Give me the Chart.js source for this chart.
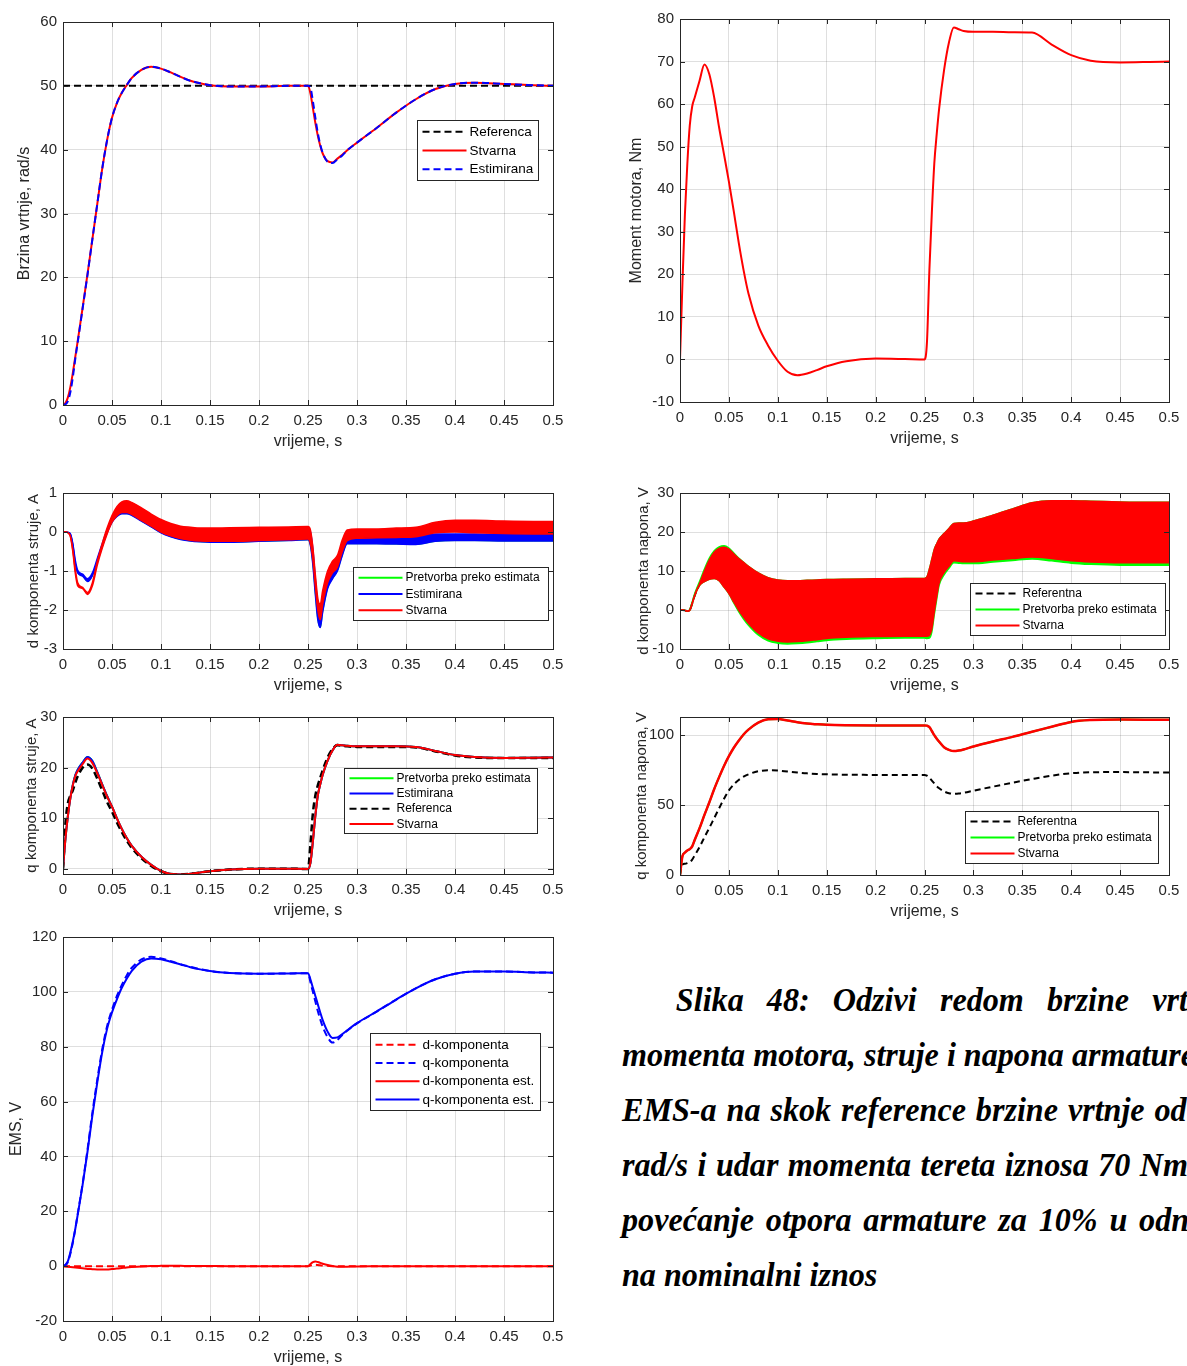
<!DOCTYPE html>
<html>
<head>
<meta charset="utf-8">
<script src="https://cdn.jsdelivr.net/npm/chart.js@4.4.1/dist/chart.umd.min.js"></script>
<style>
  html, body { margin: 0; padding: 0; background: #fff; width: 1187px; height: 1366px; overflow: hidden; }
  canvas { position: absolute; }
  #caption { position: absolute; left: 622px; top: 972px; color: #000; white-space: nowrap;
    font: italic bold 34px 'Liberation Serif', 'Times New Roman', serif; line-height: 55px;
    transform: scaleX(0.945); transform-origin: 0 0; }
</style>
</head>
<body>
<div id="caption">
  <div style="text-indent:57px;word-spacing:16px">Slika 48: Odzivi redom brzine vrtnje,</div>
  <div>momenta motora, struje i napona armature i</div>
  <div style="word-spacing:2px">EMS-a na skok reference brzine vrtnje od 50</div>
  <div style="word-spacing:1.5px">rad/s i udar momenta tereta iznosa 70 Nm uz</div>
  <div style="word-spacing:4px">povećanje otpora armature za 10% u odnosu</div>
  <div>na nominalni iznos</div>
</div>
<script>
// time base (s)
const t = [0, 0.0025, 0.005, 0.0075, 0.01, 0.0125, 0.015, 0.02, 0.025, 0.03,
  0.035, 0.04, 0.045, 0.05, 0.055, 0.06, 0.065, 0.07, 0.08, 0.09,
  0.1, 0.11, 0.12, 0.13, 0.14, 0.15, 0.17, 0.2, 0.23, 0.25,
  0.2525, 0.255, 0.2575, 0.26, 0.2625, 0.265, 0.27, 0.275, 0.28, 0.285,
  0.29, 0.3, 0.32, 0.34, 0.36, 0.38, 0.4, 0.42, 0.45, 0.48,
  0.5]
const tRef = [0, 0.5]
const xTicks = [0, 0.05, 0.1, 0.15, 0.2, 0.25, 0.3, 0.35, 0.4, 0.45, 0.5]
const xTickLabels = ['0', '0.05', '0.1', '0.15', '0.2', '0.25', '0.3', '0.35', '0.4', '0.45', '0.5']

// brzina vrtnje
const speedRef = [50, 50]
const speedReal = [0, 0.3, 1.2, 2.8, 5, 7.5, 10, 15.2, 20.5, 26,
  31.5, 37, 41.5, 45, 47.3, 48.9, 50.1, 51.2, 52.5, 53,
  52.7, 52.1, 51.4, 50.8, 50.4, 50.1, 49.9, 49.9, 50, 50,
  48.8, 46.5, 44.2, 42.2, 40.6, 39.4, 38.2, 38, 38.6, 39.2,
  39.9, 41.1, 43.4, 45.8, 47.9, 49.5, 50.3, 50.5, 50.3, 50.1,
  50]
const speedEst = [0, 0.1, 0.6, 2.0, 4.3, 7.2, 9.8, 15.1, 20.4, 26,
  31.5, 37, 41.5, 45, 47.3, 48.9, 50.1, 51.2, 52.5, 53,
  52.7, 52.1, 51.4, 50.8, 50.4, 50.1, 49.9, 49.9, 50, 50,
  49.7, 47.6, 45, 42.6, 40.8, 39.5, 38.1, 37.9, 38.5, 39.1,
  39.9, 41.1, 43.4, 45.8, 47.9, 49.5, 50.3, 50.5, 50.3, 50.1,
  50]
const speedTicks = [0, 10, 20, 30, 40, 50, 60]

// moment motora
const torque = [0, 18, 34, 46, 55, 59.5, 61.5, 65.5, 69.3, 67,
  61.5, 54.5, 48.2, 41.8, 34.8, 27.5, 21, 15.5, 8, 3.3,
  -0.3, -2.9, -3.7, -3.3, -2.5, -1.6, -0.4, 0.2, 0.1, 0,
  4, 21, 34.5, 46, 53, 59, 68, 74.5, 78, 77.6,
  77.2, 77, 77, 76.9, 76.8, 74, 71.5, 70.2, 69.8, 69.9,
  70]
const torqueTicks = [-10, 0, 10, 20, 30, 40, 50, 60, 70, 80]

// d komponenta struje (gornja / donja ovojnica)
const idRealHi = [0, 0, -0.02, -0.1, -0.45, -0.95, -1.3, -1.42, -1.55, -1.3,
  -0.75, -0.3, 0.1, 0.42, 0.65, 0.77, 0.8, 0.76, 0.62, 0.46,
  0.32, 0.22, 0.15, 0.12, 0.1, 0.1, 0.11, 0.12, 0.13, 0.14,
  0.05, -0.4, -1.1, -1.7, -1.85, -1.5, -1.0, -0.75, -0.6, -0.2,
  0.05, 0.08, 0.08, 0.1, 0.12, 0.25, 0.3, 0.3, 0.28, 0.27,
  0.27]
const idRealLo = [0, 0, -0.02, -0.12, -0.5, -1.05, -1.38, -1.45, -1.6, -1.38,
  -0.85, -0.42, -0.05, 0.25, 0.42, 0.5, 0.5, 0.45, 0.3, 0.15,
  0, -0.1, -0.17, -0.21, -0.23, -0.24, -0.24, -0.22, -0.2, -0.18,
  -0.3, -0.7, -1.4, -2.0, -2.25, -1.85, -1.3, -1.05, -0.9, -0.5,
  -0.22, -0.16, -0.15, -0.14, -0.12, -0.02, 0, -0.02, -0.04, -0.05,
  -0.05]
const idEstHi = [0, 0, -0.01, -0.05, -0.3, -0.72, -0.98, -1.08, -1.2, -1.05,
  -0.68, -0.3, 0.05, 0.35, 0.55, 0.65, 0.68, 0.65, 0.52, 0.38,
  0.26, 0.17, 0.1, 0.08, 0.07, 0.07, 0.08, 0.09, 0.1, 0.1,
  0, -0.45, -1.2, -1.85, -2.0, -1.7, -1.15, -0.85, -0.7, -0.35,
  -0.1, -0.1, -0.1, -0.1, -0.1, -0.05, -0.05, -0.05, -0.06, -0.07,
  -0.07]
const idEstLo = [0, 0, -0.01, -0.06, -0.33, -0.8, -1.05, -1.13, -1.27, -1.12,
  -0.75, -0.38, -0.02, 0.25, 0.4, 0.47, 0.47, 0.43, 0.28, 0.13,
  -0.02, -0.12, -0.19, -0.23, -0.25, -0.26, -0.26, -0.24, -0.22, -0.2,
  -0.35, -0.85, -1.6, -2.25, -2.45, -2.05, -1.45, -1.2, -1.0, -0.6,
  -0.3, -0.3, -0.3, -0.31, -0.32, -0.24, -0.22, -0.22, -0.23, -0.23,
  -0.23]
const idTicks = [-3, -2, -1, 0, 1]

// d komponenta napona
const udRealHi = [0, 0, -0.1, -0.3, 0, 1.8, 3.8, 6.8, 10, 12.8,
  14.8, 15.8, 16.1, 15.6, 14.4, 13.2, 12.2, 11.2, 9.5, 8.3,
  7.7, 7.5, 7.5, 7.6, 7.7, 7.8, 7.9, 8, 8.1, 8.1,
  8.5, 10.5, 13, 15.5, 17, 18.2, 19.6, 20.9, 22.2, 22.3,
  22.3, 22.8, 24.3, 25.9, 27.5, 28, 28, 27.9, 27.7, 27.6,
  27.6]
const udRealLo = [0, 0, -0.1, -0.3, -0.1, 1.6, 3.6, 6.3, 7.3, 7.9,
  8.1, 7.5, 5.9, 4.2, 2.1, 0, -1.8, -3.4, -5.9, -7.4,
  -8.0, -8.2, -8.1, -7.9, -7.6, -7.3, -7.0, -6.8, -6.7, -6.7,
  -6.7, -6.5, -4.8, -0.5, 3.5, 7, 9.6, 11.2, 12.6, 12.5,
  12.4, 12.4, 12.8, 13.2, 13.6, 13.2, 12.6, 12.3, 12.1, 12.1,
  12.1]
const udConvHi = [0, 0, -0.1, -0.3, 0.1, 2.1, 4.2, 7.3, 10.5, 13.3,
  15.2, 16.2, 16.5, 15.9, 14.6, 13.3, 12.2, 11.2, 9.5, 8.3,
  7.7, 7.5, 7.5, 7.6, 7.7, 7.8, 7.9, 8, 8.1, 8.1,
  8.5, 10.5, 13, 15.5, 17, 18.2, 19.6, 20.9, 22.2, 22.3,
  22.3, 22.8, 24.3, 25.9, 27.5, 28, 28, 27.9, 27.7, 27.6,
  27.6]
const udConvLo = [0, 0, -0.1, -0.3, -0.1, 1.6, 3.6, 6.3, 7.3, 7.9,
  8.1, 7.5, 5.9, 4.2, 1.8, -0.4, -2.3, -3.9, -6.4, -7.9,
  -8.5, -8.7, -8.6, -8.4, -8.1, -7.8, -7.5, -7.3, -7.2, -7.2,
  -7.3, -7.2, -5.6, -1.2, 2.8, 6.4, 9.0, 10.7, 12.1, 12.0,
  11.9, 11.9, 12.3, 12.7, 13.1, 12.6, 12.0, 11.7, 11.5, 11.5,
  11.5]
const udRef = [0, 0, -0.1, -0.3, 0, 1.7, 3.7, 6.5, 8.6, 10.3,
  11.4, 11.6, 11, 9.9, 8.2, 6.6, 5.2, 3.9, 1.8, 0.4,
  -0.2, -0.35, -0.3, -0.15, 0.05, 0.25, 0.45, 0.6, 0.7, 0.7,
  0.9, 2, 4.1, 7.5, 10.2, 12.6, 14.6, 16, 17.4, 17.4,
  17.3, 17.6, 18.5, 19.5, 20.5, 20.6, 20.3, 20.1, 19.9, 19.8,
  19.8]
const udTicks = [-10, 0, 10, 20, 30]

// q komponenta struje
const iqReal = [0, 6, 10.5, 14, 16.5, 18.3, 19.3, 20.7, 21.8, 20.9,
  18.9, 16.6, 14.3, 12.3, 10, 7.9, 6.1, 4.6, 2.4, 0.8,
  -0.4, -1.0, -1.1, -0.95, -0.7, -0.45, -0.13, 0.06, 0.03, 0,
  1.2, 5.5, 10.5, 14.5, 16.7, 18.6, 21.4, 23.4, 24.5, 24.4,
  24.3, 24.2, 24.2, 24.2, 24.1, 23.3, 22.5, 22.1, 21.9, 21.95,
  22]
const iqEst = [0, 6, 10.5, 14, 16.6, 18.5, 19.6, 21.0, 22.1, 21.3,
  19.1, 16.7, 14.4, 12.3, 10, 7.9, 6.1, 4.6, 2.4, 0.8,
  -0.4, -1.0, -1.1, -0.95, -0.7, -0.45, -0.13, 0.06, 0.03, 0,
  1.2, 5.5, 10.5, 14.5, 16.7, 18.6, 21.4, 23.4, 24.5, 24.4,
  24.3, 24.2, 24.2, 24.2, 24.1, 23.3, 22.5, 22.1, 21.9, 21.95,
  22]
const iqRef = [0, 9, 13, 14.5, 15.5, 17, 18.3, 20, 20.6, 19.8,
  17.8, 15.5, 13.2, 11.3, 9.2, 7.3, 5.6, 4.2, 2.1, 0.6,
  -0.5, -1.0, -1.1, -0.95, -0.7, -0.45, -0.13, 0.06, 0.03, 0,
  5, 11, 14.5, 16.5, 18, 19.5, 22, 23.7, 24.4, 24.3,
  24.2, 24.1, 24.1, 24.1, 24, 23.2, 22.4, 22, 21.9, 21.9,
  21.9]
const iqTicks = [0, 10, 20, 30]

// q komponenta napona
const uqReal = [0, 13.5, 16, 17.5, 18.5, 20.5, 25, 33.5, 43, 52,
  61.5, 70, 78, 85, 91, 96, 100.5, 104, 109, 111.4,
  111.6, 110.5, 109.2, 108.3, 107.8, 107.4, 107.1, 107, 107, 107,
  106.8, 105.8, 103, 100, 97.5, 95.3, 91.4, 89.5, 88.6, 89,
  89.8, 91.9, 95.5, 98.8, 102.5, 106, 109.5, 110.8, 111.2, 111.1,
  111]
const uqRef = [0, 7.5, 8, 8.5, 9.3, 11, 14, 20, 27, 33.7,
  40.7, 47.7, 54.5, 60.5, 64.8, 68, 70.3, 72, 74.2, 74.9,
  74.7, 74, 73.3, 72.7, 72.3, 72, 71.7, 71.6, 71.6, 71.6,
  71, 69.5, 67.5, 65.5, 63.5, 62, 59.8, 58.5, 58.1, 58.3,
  58.8, 60.3, 63.2, 66, 68.6, 71, 72.8, 73.5, 73.6, 73.4,
  73.3]
const uqTicks = [0, 50, 100]

// EMS
const emsQEst = [0, 0.5, 1.8, 5, 9, 13.5, 18.7, 29.6, 41.7, 55,
  67, 78, 86.5, 92.5, 97.3, 101.5, 104.8, 107.6, 111, 112.2,
  111.9, 111, 110, 109, 108.2, 107.6, 106.9, 106.6, 106.7, 106.8,
  104.5, 101.5, 98.5, 95.5, 92.5, 89.7, 85.5, 83.2, 83.4, 84.6,
  86, 88.6, 92.8, 97.2, 101.3, 104.6, 106.6, 107.4, 107.4, 107.1,
  107]
const emsQ = [0, 0.3, 1.5, 4.5, 8.5, 13.5, 19, 30, 42.5, 56,
  68, 79, 87.5, 93.5, 98.5, 102.5, 106, 108.7, 111.8, 112.8,
  112.2, 111.2, 110.1, 109.1, 108.3, 107.6, 106.9, 106.6, 106.7, 106.8,
  103.5, 100, 96.5, 93, 90, 87.3, 83.5, 81.5, 82.5, 84.3,
  85.8, 88.5, 92.8, 97.2, 101.3, 104.6, 106.6, 107.4, 107.4, 107.1,
  107]
const emsDEst = [0, -0.1, -0.2, -0.3, -0.4, -0.5, -0.6, -0.8, -1.0, -1.1,
  -1.2, -1.25, -1.2, -1.05, -0.9, -0.7, -0.5, -0.35, -0.1, 0.05,
  0.1, 0.12, 0.1, 0.08, 0.05, 0.03, 0, 0, 0, 0,
  0.8, 1.5, 1.7, 1.5, 1.2, 0.9, 0.4, 0.05, -0.2, -0.25,
  -0.2, -0.1, -0.05, 0, 0, 0, 0, 0, 0, 0,
  0]
const emsD = [0, 0, 0, 0, 0, 0, 0, 0, 0, 0,
  0, 0, 0, 0, 0, 0, 0, 0, 0, 0,
  0, 0, 0, 0, 0, 0, 0, 0, 0, 0,
  0.2, 0.4, 0.5, 0.4, 0.3, 0.2, 0.1, 0, 0, 0,
  0, 0, 0, 0, 0, 0, 0, 0, 0, 0,
  0]
const emsTicks = [-20, 0, 20, 40, 60, 80, 100, 120]

const RED = '#ff0000'
const BLUE = '#0000ff'
const GREEN = '#00ff00'
const BLACK = '#000000'
const AXIS = '#262626'
const GRID = 'rgba(38,38,38,0.15)'
const DASH = [7, 4]
const FONT = "'Liberation Sans', Arial, sans-serif"

Chart.defaults.font.family = FONT
Chart.defaults.color = AXIS

const pts = (xs, ys) => xs.map((x, i) => ({ x: x, y: ys[i] }))

const line = (xs, ys, color, extra) => Object.assign({
  data: pts(xs, ys),
  borderColor: color,
  backgroundColor: color,
  borderWidth: 2,
  pointRadius: 0,
  fill: false,
  cubicInterpolationMode: 'monotone'
}, extra || {})

// MATLAB style box, inner tick marks and legend
const axesBox = (legend) => ({
  id: 'axesBox',
  afterDraw(chart) {
    const { ctx, chartArea: a } = chart
    const sx = chart.scales.x
    const sy = chart.scales.y
    ctx.save()
    ctx.strokeStyle = AXIS
    ctx.lineWidth = 1
    ctx.beginPath()
    sx.ticks.forEach(tk => {
      const p = Math.round(sx.getPixelForValue(tk.value)) + 0.5
      ctx.moveTo(p, a.bottom); ctx.lineTo(p, a.bottom - 5)
      ctx.moveTo(p, a.top); ctx.lineTo(p, a.top + 5)
    })
    sy.ticks.forEach(tk => {
      const p = Math.round(sy.getPixelForValue(tk.value)) + 0.5
      ctx.moveTo(a.left, p); ctx.lineTo(a.left + 5, p)
      ctx.moveTo(a.right, p); ctx.lineTo(a.right - 5, p)
    })
    ctx.stroke()
    ctx.strokeRect(Math.round(a.left) + 0.5, Math.round(a.top) + 0.5,
      Math.round(a.right - a.left), Math.round(a.bottom - a.top))
    if (legend) {
      const x0 = Math.round(a.left + legend.x) + 0.5
      const y0 = Math.round(a.top + legend.y) + 0.5
      ctx.fillStyle = '#fff'
      ctx.fillRect(x0, y0, legend.w, legend.h)
      ctx.strokeRect(x0, y0, legend.w, legend.h)
      const rowH = (legend.h - 4) / legend.items.length
      ctx.font = legend.size + 'px ' + FONT
      ctx.textBaseline = 'middle'
      ctx.textAlign = 'left'
      legend.items.forEach((it, i) => {
        const cy = y0 + 2 + rowH * (i + 0.5)
        ctx.beginPath()
        ctx.strokeStyle = it.color
        ctx.lineWidth = 2
        ctx.setLineDash(it.dash ? DASH : [])
        ctx.moveTo(x0 + 5, cy)
        ctx.lineTo(x0 + 5 + legend.line, cy)
        ctx.stroke()
        ctx.setLineDash([])
        ctx.fillStyle = '#000'
        ctx.fillText(it.text, x0 + 8 + legend.line, cy + 0.5)
      })
    }
    ctx.restore()
  }
})

const PAD_L = 63
const PAD_T = 12
const PAD_R = 20
const PAD_B = 50

function plot(box, yAxis, datasets, legend) {
  const c = document.createElement('canvas')
  const w = box.right - box.left + PAD_L + PAD_R
  const h = box.bottom - box.top + PAD_T + PAD_B
  c.width = w
  c.height = h
  c.style.left = (box.left - PAD_L) + 'px'
  c.style.top = (box.top - PAD_T) + 'px'
  c.style.width = w + 'px'
  c.style.height = h + 'px'
  document.body.appendChild(c)
  return new Chart(c, {
    type: 'line',
    data: { datasets: datasets },
    options: {
      responsive: false,
      animation: false,
      devicePixelRatio: 1,
      events: [],
      layout: { padding: { top: PAD_T, right: PAD_R, left: 0, bottom: 0 } },
      plugins: { legend: { display: false }, tooltip: { enabled: false } },
      scales: {
        x: {
          type: 'linear', min: 0, max: 0.5,
          afterBuildTicks: s => { s.ticks = xTicks.map(v => ({ value: v })) },
          afterFit: s => { s.height = PAD_B },
          grid: { color: GRID, drawTicks: false },
          border: { display: false },
          ticks: { autoSkip: false, maxRotation: 0, padding: 7, font: { size: 15 },
            callback: (v, i) => xTickLabels[i] },
          title: { display: true, text: 'vrijeme, s', font: { size: 16 }, padding: { top: 0, bottom: 4 } }
        },
        y: {
          type: 'linear', min: yAxis.min, max: yAxis.max,
          afterBuildTicks: s => { s.ticks = yAxis.ticks.map(v => ({ value: v })) },
          afterFit: s => { s.width = PAD_L },
          grid: { color: GRID, drawTicks: false },
          border: { display: false },
          ticks: { padding: 6, font: { size: 15 }, callback: v => String(v) },
          title: { display: true, text: yAxis.title, font: { size: yAxis.size },
            padding: { top: yAxis.pad, bottom: 0 } }
        }
      }
    },
    plugins: [axesBox(legend)]
  })
}

// 1) brzina vrtnje
plot({ left: 63, top: 19, right: 553, bottom: 405 },
  { min: 0, max: 60, ticks: speedTicks, title: 'Brzina vrtnje, rad/s', size: 16, pad: 15 },
  [
    line(t, speedEst, BLUE, { borderDash: DASH }),
    line(t, speedReal, RED),
    line(tRef, speedRef, BLACK, { borderDash: DASH })
  ],
  { x: 354, y: 98, w: 121, h: 60, size: 13.5, line: 44, items: [
    { text: 'Referenca', color: BLACK, dash: true },
    { text: 'Stvarna', color: RED },
    { text: 'Estimirana', color: BLUE, dash: true }
  ] })

// 2) moment motora
plot({ left: 680, top: 16, right: 1169, bottom: 402 },
  { min: -10, max: 80, ticks: torqueTicks, title: 'Moment motora, Nm', size: 16, pad: 10 },
  [line(t, torque, RED)])

// 3) d komponenta struje
plot({ left: 63, top: 490, right: 553, bottom: 649 },
  { min: -3, max: 1, ticks: idTicks, title: 'd komponenta struje, A', size: 15, pad: 25 },
  [
    line(t, idRealHi, RED, { borderWidth: 1.5 }),
    line(t, idRealLo, RED, { borderWidth: 1.5, fill: '-1' }),
    line(t, idEstHi, BLUE, { borderWidth: 1.5 }),
    line(t, idEstLo, BLUE, { borderWidth: 1.5, fill: '-1' }),
    line(t, idEstLo, GREEN, { borderWidth: 1 })
  ],
  { x: 290, y: 74, w: 195, h: 53, size: 12, line: 44, items: [
    { text: 'Pretvorba preko estimata', color: GREEN },
    { text: 'Estimirana', color: BLUE },
    { text: 'Stvarna', color: RED }
  ] })

// 4) d komponenta napona
plot({ left: 680, top: 490, right: 1169, bottom: 649 },
  { min: -10, max: 30, ticks: udTicks, title: 'd komponenta napona, V', size: 15, pad: 18 },
  [
    line(t, udRealHi, RED, { borderWidth: 1.5 }),
    line(t, udRealLo, RED, { borderWidth: 1.5, fill: '-1' }),
    line(t, udConvHi, GREEN, { borderWidth: 1.5 }),
    line(t, udConvLo, GREEN, { borderWidth: 1.5, fill: '-1' }),
    line(t, udRef, BLACK, { borderDash: DASH })
  ],
  { x: 290, y: 90, w: 195, h: 52, size: 12, line: 44, items: [
    { text: 'Referentna', color: BLACK, dash: true },
    { text: 'Pretvorba preko estimata', color: GREEN },
    { text: 'Stvarna', color: RED }
  ] })

// 5) q komponenta struje
plot({ left: 63, top: 714, right: 553, bottom: 874 },
  { min: -1, max: 30, ticks: iqTicks, title: 'q komponenta struje, A', size: 15, pad: 23 },
  [
    line(t, iqReal, RED),
    line(t, iqRef, BLACK, { borderDash: DASH, borderWidth: 2.5 }),
    line(t, iqEst, BLUE),
    line(t, iqEst, GREEN)
  ],
  { x: 281, y: 51, w: 193, h: 65, size: 12, line: 44, items: [
    { text: 'Pretvorba preko estimata', color: GREEN },
    { text: 'Estimirana', color: BLUE },
    { text: 'Referenca', color: BLACK, dash: true },
    { text: 'Stvarna', color: RED }
  ] })

// 6) q komponenta napona
plot({ left: 680, top: 714, right: 1169, bottom: 875 },
  { min: 0, max: 113, ticks: uqTicks, title: 'q komponenta napona, V', size: 15, pad: 16 },
  [
    line(t, uqReal, RED, { borderWidth: 2.5 }),
    line(t, uqReal, GREEN),
    line(t, uqRef, BLACK, { borderDash: [6, 4], borderWidth: 2 })
  ],
  { x: 285, y: 94, w: 193, h: 52, size: 12, line: 44, items: [
    { text: 'Referentna', color: BLACK, dash: true },
    { text: 'Pretvorba preko estimata', color: GREEN },
    { text: 'Stvarna', color: RED }
  ] })

// 7) EMS
plot({ left: 63, top: 934, right: 553, bottom: 1321 },
  { min: -20, max: 120, ticks: emsTicks, title: 'EMS, V', size: 16, pad: 7 },
  [
    line(t, emsQEst, BLUE),
    line(t, emsDEst, RED),
    line(t, emsQ, BLUE, { borderDash: DASH }),
    line(t, emsD, RED, { borderDash: DASH })
  ],
  { x: 307, y: 96, w: 170, h: 77, size: 13.5, line: 44, items: [
    { text: 'd-komponenta', color: RED, dash: true },
    { text: 'q-komponenta', color: BLUE, dash: true },
    { text: 'd-komponenta est.', color: RED },
    { text: 'q-komponenta est.', color: BLUE }
  ] })
</script>
</body>
</html>
